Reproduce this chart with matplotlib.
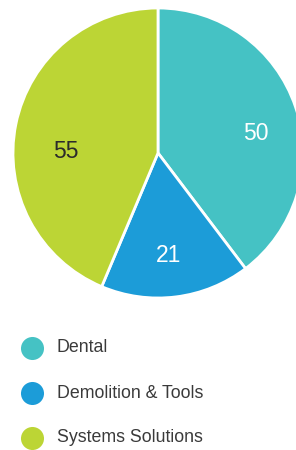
import matplotlib.pyplot as plt

categories = ['Dental', 'Demolition & Tools', 'Systems Solutions']
values = [50, 21, 55]
colors = ['#45c2c4', '#1c9cd8', '#bcd535']
label_colors = ['white', 'white', '#2b2b2b']

W, H = 296, 450
fig = plt.figure(figsize=(W / 100, H / 100), dpi=100)
font = ['Liberation Sans', 'DejaVu Sans']

# pie axes: centre at (158, 153) px, radius 145 px
cx, cy, r = 158, 153, 145
ax = fig.add_axes([(cx - r) / W, (H - cy - r) / H, 2 * r / W, 2 * r / H])
wedges, texts = ax.pie(values, colors=colors, startangle=90, counterclock=False,
                       radius=1, wedgeprops=dict(edgecolor='white', linewidth=2))
ax.set_xlim(-1, 1)
ax.set_ylim(-1, 1)
ax.set_aspect('equal')
ax.axis('off')
for w in wedges:
    w.set_clip_on(False)

# value labels (placement in pie radius units)
label_pos = [(0.676, 0.135), (0.07, -0.71), (-0.635, 0.01)]
for v, (x, y), c in zip(values, label_pos, label_colors):
    ax.text(x, y, str(v), ha='center', va='center', color=c,
            fontsize=16.5, family=font)

# legend rows
lax = fig.add_axes([32 / W, (H - 438) / H, 220 / W, 90 / H])
lax.set_xlim(0, 220)
lax.set_ylim(len(categories) - 1, 0)
lax.axis('off')
for i, (name, c) in enumerate(zip(categories, colors)):
    lax.scatter(0, i, s=23 ** 2 * 0.52, color=c, clip_on=False, linewidths=0)
    lax.text(25, i, name, va='center', ha='left', color='#3a3a3a',
             fontsize=12.8, family=font)

fig.savefig('out.png', dpi=100)
